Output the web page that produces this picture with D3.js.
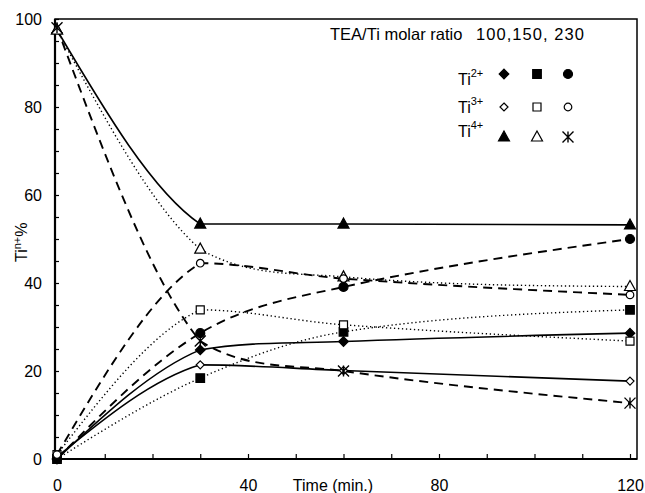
<!DOCTYPE html>
<html>
<head>
<meta charset="utf-8">
<script src="https://cdn.jsdelivr.net/npm/d3@7"></script>
<style>
  body { margin: 0; background: #fff; }
  svg { display: block; font-family: "Liberation Sans", Arial, sans-serif; }
  text { fill: #000; }
</style>
</head>
<body>
<div id="wrapper"></div>
<script>
// data (Ti n+ % vs time, for three TEA/Ti ratios)
const times = [0, 30, 60, 120]
const ratios = ["100", "150", "230"]
const ions = ["2+", "3+", "4+"]

const ti2Ratio100 = [0, 24.8, 26.7, 28.6]
const ti3Ratio100 = [0.5, 21.4, 20.1, 17.7]
const ti4Ratio100 = [97.5, 53.4, 53.4, 53.2]

const ti2Ratio150 = [0, 18.4, 28.9, 33.9]
const ti3Ratio150 = [1, 33.9, 30.5, 26.8]
const ti4Ratio150 = [97.5, 47.7, 41.4, 39.2]

const ti2Ratio230 = [0, 28.6, 39.1, 50]
const ti3Ratio230 = [1, 44.5, 41, 37.3]
const ti4Ratio230 = [98, 26.8, 20, 12.7]

const xTickLabels = [0, 40, 80, 120]
const yTickLabels = [0, 20, 40, 60, 80, 100]

// smooth line through the points, tangents kept inside each segment
// so there is no overshoot (kinks are allowed, like the original plot)
function curveSmoothClamped(context) {
  let xs, ys
  const clamp = (m, s) => {
    if (s === 0 || m * s <= 0) return 0
    if (Math.abs(m) > 3 * Math.abs(s)) return 3 * s
    return m
  }
  return {
    areaStart() {},
    areaEnd() {},
    lineStart() { xs = []; ys = [] },
    point(x, y) { xs.push(+x); ys.push(+y) },
    lineEnd() {
      const n = xs.length
      const s = d3.range(n - 1).map(i => (ys[i + 1] - ys[i]) / (xs[i + 1] - xs[i]))
      const m = xs.map((x, i) => (i === 0 || i === n - 1) ? 0
        : (ys[i + 1] - ys[i - 1]) / (xs[i + 1] - xs[i - 1]))
      m[0] = (3 * s[0] - m[1]) / 2
      m[n - 1] = (3 * s[n - 2] - m[n - 2]) / 2
      context.moveTo(xs[0], ys[0])
      for (let i = 0; i < n - 1; i++) {
        const a = clamp(m[i], s[i])
        const b = clamp(m[i + 1], s[i])
        const dx = (xs[i + 1] - xs[i]) / 3
        context.bezierCurveTo(
          xs[i] + dx, ys[i] + a * dx,
          xs[i + 1] - dx, ys[i + 1] - b * dx,
          xs[i + 1], ys[i + 1])
      }
    }
  }
}

function drawChart() {
  const seriesValues = {
    "100": [ti2Ratio100, ti3Ratio100, ti4Ratio100],
    "150": [ti2Ratio150, ti3Ratio150, ti4Ratio150],
    "230": [ti2Ratio230, ti3Ratio230, ti4Ratio230]
  }
  // marker per ratio (columns) and ion (rows), line style per ratio
  const markers = {
    "100": ["diamondFilled", "diamondOpen", "triangleFilled"],
    "150": ["squareFilled", "squareOpen", "triangleOpen"],
    "230": ["circleFilled", "circleOpen", "asterisk"]
  }
  const dashes = { "100": null, "150": "1.3,2.7", "230": "9,6" }
  const widths = { "100": 1.6, "150": 1.4, "230": 1.9 }

  const series = []
  ratios.forEach(r => ions.forEach((ion, i) => {
    series.push({
      ratio: r,
      ion: ion,
      marker: markers[r][i],
      points: times.map((t, j) => ({ t: t, v: seriesValues[r][i][j] }))
    })
  }))

  const xAccessor = d => d.t
  const yAccessor = d => d.v

  // 2. dimensions
  const dims = {
    width: 645,
    height: 493,
    margin: { top: 19, right: 8, bottom: 34, left: 55 }
  }
  dims.boundedWidth = dims.width - dims.margin.left - dims.margin.right
  dims.boundedHeight = dims.height - dims.margin.top - dims.margin.bottom

  // 3. canvas
  const wrapper = d3.select("#wrapper")
    .append("svg")
      .attr("width", dims.width)
      .attr("height", dims.height)

  const bounds = wrapper.append("g")
      .attr("transform", `translate(${dims.margin.left},${dims.margin.top})`)

  // 4. scales
  const xScale = d3.scaleLinear()
    .domain([0, 120])
    .range([2, 575])

  const yScale = d3.scaleLinear()
    .domain([0, 100])
    .range([dims.boundedHeight, 0])

  // 5. peripherals (frame + ticks)
  bounds.append("rect")
    .attr("width", dims.boundedWidth)
    .attr("height", dims.boundedHeight)
    .attr("fill", "none")
    .attr("stroke", "#000")
    .attr("stroke-width", 1.5)

  const xTicks = bounds.append("g")
    .attr("transform", `translate(0,${dims.boundedHeight})`)
    .call(d3.axisBottom(xScale)
      .tickValues(d3.range(0, 121, 10))
      .tickSizeInner(-5).tickSizeOuter(0)
      .tickFormat(""))
  xTicks.select(".domain").remove()
  xTicks.selectAll("line").attr("stroke-width", 1.2)

  const xLabels = bounds.append("g")
    .attr("transform", `translate(0,${dims.boundedHeight})`)
    .call(d3.axisBottom(xScale)
      .tickValues(xTickLabels)
      .tickSize(0)
      .tickPadding(21)
      .tickFormat(d3.format("d")))
  xLabels.select(".domain").remove()
  xLabels.selectAll("text")
    .attr("fill", "#000")
    .style("font-size", "16px")
    .style("font-family", "Liberation Sans, Arial, sans-serif")

  const yTicks = bounds.append("g")
    .call(d3.axisLeft(yScale)
      .tickValues(d3.range(0, 101, 5))
      .tickSizeInner(-4).tickSizeOuter(0)
      .tickFormat(""))
  yTicks.select(".domain").remove()
  yTicks.selectAll("line").attr("stroke-width", 1.2)

  const yLabels = bounds.append("g")
    .call(d3.axisLeft(yScale)
      .tickValues(yTickLabels)
      .tickSize(0)
      .tickPadding(13)
      .tickFormat(d3.format("d")))
  yLabels.select(".domain").remove()
  yLabels.selectAll("text")
    .attr("fill", "#000")
    .style("font-size", "16px")
    .style("font-family", "Liberation Sans, Arial, sans-serif")

  // heavier left and bottom axis lines
  bounds.append("line")
    .attr("x1", 0).attr("x2", 0)
    .attr("y1", 0).attr("y2", dims.boundedHeight)
    .attr("stroke", "#000").attr("stroke-width", 2.2)
  bounds.append("line")
    .attr("x1", 0).attr("x2", dims.boundedWidth)
    .attr("y1", dims.boundedHeight).attr("y2", dims.boundedHeight)
    .attr("stroke", "#000").attr("stroke-width", 2.2)

  wrapper.append("text")
    .attr("x", 333)
    .attr("y", 491)
    .attr("text-anchor", "middle")
    .style("font-size", "16px")
    .text("Time (min.)")

  const yTitle = wrapper.append("text")
    .attr("transform", "translate(27,262) rotate(-90)")
    .style("font-size", "16px")
  yTitle.append("tspan").text("Ti")
  yTitle.append("tspan").attr("dy", -6).style("font-size", "11px").text("n+")
  yTitle.append("tspan").attr("dy", 6).text("%")

  // 6. draw data
  const lineGenerator = d3.line()
    .x(d => xScale(xAccessor(d)))
    .y(d => yScale(yAccessor(d)))
    .curve(curveSmoothClamped)

  bounds.selectAll(".series")
    .data(series)
    .join("path")
      .attr("class", "series")
      .attr("d", d => lineGenerator(d.points))
      .attr("fill", "none")
      .attr("stroke", "#000")
      .attr("stroke-width", d => widths[d.ratio])
      .attr("stroke-dasharray", d => dashes[d.ratio])

  function markerPath(type) {
    const p = d3.path()
    if (type.startsWith("diamond")) {
      const r = type.endsWith("Filled") ? 4.8 : 4
      p.moveTo(0, -r); p.lineTo(r, 0); p.lineTo(0, r); p.lineTo(-r, 0); p.closePath()
    } else if (type.startsWith("square")) {
      const h = type.endsWith("Filled") ? 4.3 : 4
      p.rect(-h, -h, 2 * h, 2 * h)
    } else if (type.startsWith("circle")) {
      const r = type.endsWith("Filled") ? 4.5 : 3.8
      p.arc(0, 0, r, 0, 2 * Math.PI)
    } else if (type.startsWith("triangle")) {
      p.moveTo(0, -6); p.lineTo(5.5, 4); p.lineTo(-5.5, 4); p.closePath()
    } else {
      const r = 5.5
      p.moveTo(0, -r); p.lineTo(0, r)
      p.moveTo(-r, -r); p.lineTo(r, r)
      p.moveTo(-r, r); p.lineTo(r, -r)
    }
    return p.toString()
  }
  const fillOf = type => type.endsWith("Filled") ? "#000" : (type === "asterisk" ? "none" : "#fff")

  const markerData = series.flatMap(s => s.points.map(p => ({ ...p, marker: s.marker })))

  bounds.selectAll(".marker")
    .data(markerData)
    .join("path")
      .attr("class", "marker")
      .attr("transform", d => `translate(${xScale(xAccessor(d))},${yScale(yAccessor(d))})`)
      .attr("d", d => markerPath(d.marker))
      .attr("fill", d => fillOf(d.marker))
      .attr("stroke", "#000")
      .attr("stroke-width", d => d.marker === "asterisk" ? 1.4 : 1.2)

  // 7. legend
  const legend = wrapper.append("g")

  const legendTitle = legend.append("text")
    .attr("y", 39.5)
    .style("font-size", "16.5px")
  legendTitle.append("tspan")
    .attr("x", 330)
    .text("TEA/Ti molar ratio")
  legendTitle.append("tspan")
    .attr("x", 476)
    .attr("textLength", 108)
    .attr("lengthAdjust", "spacing")
    .text(ratios.slice(0, 2).join(",") + ", " + ratios[2])

  const legendCols = [504, 537, 568]
  const legendRows = [74, 107, 137]
  const labelBaselines = [85, 113, 137]

  ions.forEach((ion, i) => {
    const label = legend.append("text")
      .attr("x", 458)
      .attr("y", labelBaselines[i])
      .attr("fill", "#000")
      .style("font-size", "16px")
    label.append("tspan").text("Ti")
    label.append("tspan").attr("dy", -8).style("font-size", "11px").text(ion)

    ratios.forEach((r, j) => {
      const type = markers[r][i]
      legend.append("path")
        .attr("transform", `translate(${legendCols[j]},${legendRows[i]})`)
        .attr("d", markerPath(type))
        .attr("fill", fillOf(type))
        .attr("stroke", "#000")
        .attr("stroke-width", type === "asterisk" ? 1.4 : 1.2)
    })
  })
}
drawChart()
</script>
</body>
</html>
